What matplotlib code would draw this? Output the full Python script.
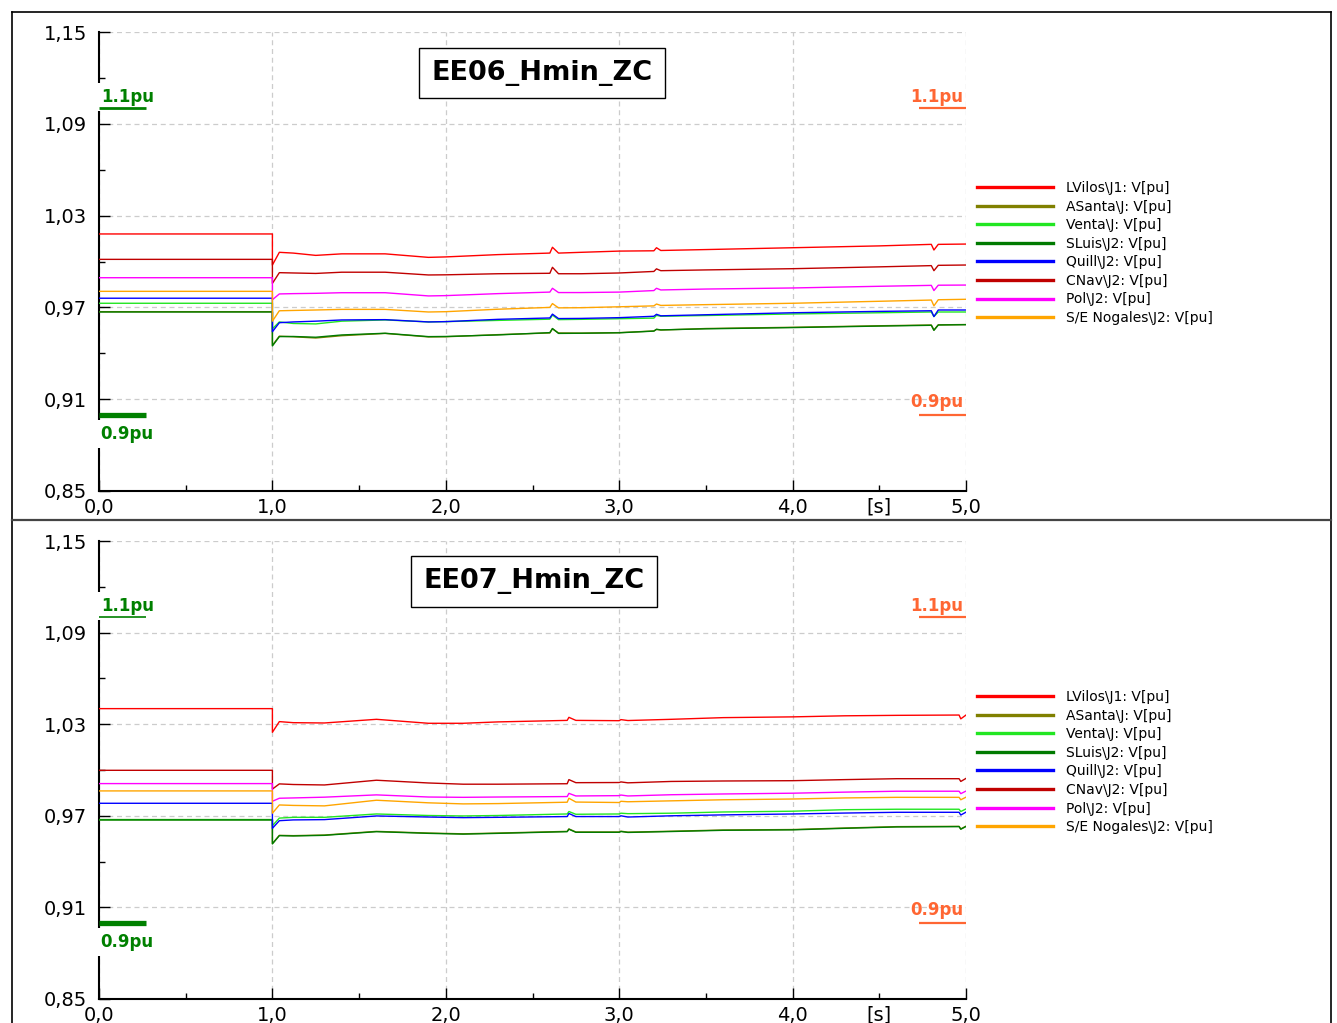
import matplotlib
matplotlib.use("Agg")
import matplotlib.pyplot as plt
from matplotlib.lines import Line2D
from matplotlib.ticker import FuncFormatter

plt.rcParams['font.family'] = ['DejaVu Sans']

# ---------------- data ----------------
names = ["LVilos\\J1: V[pu]", "ASanta\\J: V[pu]", "Venta\\J: V[pu]", "SLuis\\J2: V[pu]",
         "Quill\\J2: V[pu]", "CNav\\J2: V[pu]", "Pol\\J2: V[pu]", "S/E Nogales\\J2: V[pu]"]
colors = ["#ff0000", "#808000", "#22e622", "#007a00", "#0000ff", "#c00000", "#ff00ff", "#ffa500"]

titles = ["EE06_Hmin_ZC", "EE07_Hmin_ZC"]

# top panel (EE06)
t_top = [0.0, 1.0, 1.0, 1.04, 1.12, 1.25, 1.4, 1.65, 1.9, 2.0, 2.3, 2.6, 2.615, 2.65, 2.78,
         3.0, 3.2, 3.215, 3.24, 3.5, 4.0, 4.5, 4.8, 4.815, 4.84, 5.0]
lvilos_top = [1.018, 1.018, 0.9977, 1.006, 1.0055, 1.004, 1.005, 1.005, 1.0027, 1.003, 1.0045, 1.0055,
              1.0093, 1.0055, 1.006, 1.0068, 1.0070, 1.009, 1.0072, 1.0078, 1.009, 1.0102, 1.0112,
              1.0075, 1.0112, 1.0114]
asanta_top = [0.9672, 0.9672, 0.9452, 0.9512, 0.9508, 0.9500, 0.9515, 0.9530, 0.9507, 0.9508, 0.9522,
              0.9533, 0.9560, 0.9533, 0.9532, 0.9535, 0.9546, 0.9556, 0.9552, 0.9562, 0.9570, 0.9580,
              0.9585, 0.9552, 0.9586, 0.9588]
venta_top = [0.9727, 0.9727, 0.9560, 0.9605, 0.9595, 0.9592, 0.9610, 0.9618, 0.9605, 0.9607, 0.9615,
             0.9623, 0.9650, 0.9620, 0.9622, 0.9626, 0.9630, 0.9648, 0.9642, 0.9647, 0.9657, 0.9665,
             0.9670, 0.9640, 0.9670, 0.9670]
sluis_top = [0.9670, 0.9670, 0.9448, 0.9509, 0.9510, 0.9505, 0.9520, 0.9531, 0.9509, 0.9510, 0.9520,
             0.9535, 0.9562, 0.9530, 0.9531, 0.9534, 0.9545, 0.9557, 0.9553, 0.9560, 0.9568, 0.9578,
             0.9583, 0.9550, 0.9585, 0.9587]
quill_top = [0.9760, 0.9760, 0.9541, 0.9600, 0.9605, 0.9610, 0.9618, 0.9620, 0.9605, 0.9607, 0.9622,
             0.9631, 0.9656, 0.9627, 0.9628, 0.9633, 0.9642, 0.9655, 0.9645, 0.9652, 0.9665, 0.9674,
             0.9678, 0.9640, 0.9683, 0.9683]
cnav_top = [1.0014, 1.0014, 0.9857, 0.9927, 0.9925, 0.9922, 0.9930, 0.9930, 0.9912, 0.9913, 0.9920,
            0.9923, 0.9962, 0.9920, 0.9920, 0.9925, 0.9935, 0.9952, 0.9940, 0.9945, 0.9953, 0.9965,
            0.9973, 0.9940, 0.9975, 0.9977]
pol_top = [0.9894, 0.9894, 0.9750, 0.9788, 0.9790, 0.9792, 0.9796, 0.9796, 0.9775, 0.9777, 0.9790,
           0.9800, 0.9825, 0.9797, 0.9797, 0.9800, 0.9810, 0.9825, 0.9814, 0.9820, 0.9827, 0.9838,
           0.9844, 0.9810, 0.9845, 0.9846]
nogales_top = [0.9805, 0.9805, 0.9610, 0.9678, 0.9680, 0.9683, 0.9687, 0.9687, 0.9670, 0.9672, 0.9688,
               0.9700, 0.9725, 0.9697, 0.9698, 0.9704, 0.9710, 0.9722, 0.9713, 0.9718, 0.9727, 0.9740,
               0.9748, 0.9710, 0.9750, 0.9753]

# bottom panel (EE07)
t_bot = [0.0, 1.0, 1.0, 1.04, 1.12, 1.3, 1.6, 1.9, 2.1, 2.3, 2.7, 2.71, 2.75, 3.0, 3.01, 3.05,
         3.3, 3.6, 4.0, 4.3, 4.6, 4.96, 4.97, 5.0]
lvilos_bot = [1.0402, 1.0402, 1.0247, 1.0317, 1.0310, 1.0308, 1.0332, 1.0306, 1.0306, 1.0315, 1.0325,
              1.0345, 1.0325, 1.0323, 1.0330, 1.0324, 1.0332, 1.0343, 1.0348, 1.0355, 1.0358, 1.0360,
              1.0335, 1.0360]
asanta_bot = [0.9675, 0.9675, 0.9518, 0.9572, 0.9570, 0.9574, 0.9598, 0.9587, 0.9582, 0.9587, 0.9598,
              0.9614, 0.9594, 0.9594, 0.9599, 0.9593, 0.9599, 0.9607, 0.9610, 0.9620, 0.9629, 0.9631,
              0.9614, 0.9632]
venta_bot = [0.9675, 0.9675, 0.9635, 0.9685, 0.9690, 0.9690, 0.9712, 0.9702, 0.9699, 0.9702, 0.9712,
             0.9728, 0.9710, 0.9712, 0.9717, 0.9714, 0.9717, 0.9725, 0.9730, 0.9740, 0.9743, 0.9743,
             0.9728, 0.9745]
sluis_bot = [0.9673, 0.9673, 0.9516, 0.9570, 0.9568, 0.9572, 0.9596, 0.9585, 0.9580, 0.9585, 0.9596,
             0.9612, 0.9592, 0.9592, 0.9597, 0.9591, 0.9597, 0.9605, 0.9608, 0.9618, 0.9627, 0.9629,
             0.9612, 0.9630]
quill_bot = [0.9782, 0.9782, 0.9618, 0.9668, 0.9673, 0.9675, 0.9699, 0.9692, 0.9688, 0.9690, 0.9695,
             0.9715, 0.9695, 0.9695, 0.9700, 0.9692, 0.9700, 0.9706, 0.9712, 0.9718, 0.9723, 0.9723,
             0.9705, 0.9724]
cnav_bot = [0.9998, 0.9998, 0.9875, 0.9909, 0.9905, 0.9902, 0.9933, 0.9915, 0.9907, 0.9907, 0.9910,
            0.9937, 0.9917, 0.9918, 0.9922, 0.9916, 0.9925, 0.9928, 0.9930, 0.9937, 0.9943, 0.9943,
            0.9925, 0.9945]
pol_bot = [0.9911, 0.9911, 0.9795, 0.9815, 0.9817, 0.9822, 0.9837, 0.9823, 0.9821, 0.9823, 0.9826,
           0.9847, 0.9830, 0.9832, 0.9836, 0.9830, 0.9838, 0.9843, 0.9848, 0.9855, 0.9861, 0.9861,
           0.9845, 0.9862]
nogales_bot = [0.9863, 0.9863, 0.9717, 0.9771, 0.9768, 0.9765, 0.9802, 0.9785, 0.9778, 0.9780, 0.9789,
               0.9815, 0.9790, 0.9787, 0.9795, 0.9792, 0.9798, 0.9805, 0.9810, 0.9817, 0.9821, 0.9821,
               0.9805, 0.9822]

series_top = [lvilos_top, asanta_top, venta_top, sluis_top, quill_top, cnav_top, pol_top, nogales_top]
series_bot = [lvilos_bot, asanta_bot, venta_bot, sluis_bot, quill_bot, cnav_bot, pol_bot, nogales_bot]

limit_hi = 1.1
limit_lo = 0.9
yticks = [0.85, 0.91, 0.97, 1.03, 1.09, 1.15]
xticks = [0.0, 1.0, 2.0, 3.0, 4.0, 5.0]

# ---------------- figure ----------------
W, H = 1337, 1023
fig = plt.figure(figsize=(W / 100, H / 100), dpi=100)

def fx(px):
    return px / W

def fy(py):
    return 1 - py / H

# frame lines
fig.add_artist(Line2D([fx(12), fx(12)], [fy(12), fy(1023)], color="black", lw=1.2))
fig.add_artist(Line2D([fx(1331), fx(1331)], [fy(12), fy(1023)], color="black", lw=1.2))
fig.add_artist(Line2D([fx(12), fx(1331)], [fy(12), fy(12)], color="black", lw=1.2))
fig.add_artist(Line2D([fx(12), fx(1331)], [fy(520), fy(520)], color="#444444", lw=1.6))

green = "#008000"
orange_lbl = "#ff6633"

panels = [
    (32, 491, t_top, series_top, titles[0], 0.5109, 0.9107),
    (541, 999, t_bot, series_bot, titles[1], 0.5017, 0.9116),
]

comma = FuncFormatter(lambda v, p: ("%.2f" % v).replace(".", ","))
comma1 = FuncFormatter(lambda v, p: ("%.1f" % v).replace(".", ","))

for idx, (ptop, pbot, tt, series, title, tx, ty) in enumerate(panels):
    ax = fig.add_axes([fx(99), fy(pbot), fx(966) - fx(99), (pbot - ptop) / H])
    ax.set_xlim(0, 5)
    ax.set_ylim(0.85, 1.15)
    for s in ["top", "right"]:
        ax.spines[s].set_visible(False)
    for s in ["left", "bottom"]:
        ax.spines[s].set_linewidth(1.5)
    ax.set_yticks(yticks)
    ax.set_yticks([0.88, 0.94, 1.00, 1.06, 1.12], minor=True)
    ax.set_xticks(xticks)
    ax.set_xticks([0.5, 1.5, 2.5, 3.5, 4.5], minor=True, labels=["", "", "", "", "[s]"])
    ax.yaxis.set_major_formatter(comma)
    ax.xaxis.set_major_formatter(comma1)
    ax.tick_params(axis="both", which="major", direction="in", length=8, width=1.0,
                   labelsize=14, color="black")
    ax.tick_params(axis="both", which="minor", direction="in", length=4, width=1.0,
                   labelsize=14, color="black")
    ax.tick_params(axis="y", which="both", pad=8.5)
    ax.tick_params(axis="x", which="both", pad=5)
    ax.grid(True, which="major", color="#cccccc", linestyle=(0, (4, 3)), lw=0.9)
    ax.set_axisbelow(True)

    for vals, col, nm in zip(series, colors, names):
        ax.plot(tt, vals, color=col, lw=1.0, label=nm, zorder=3)

    # limit markers
    ax.plot([0, 0.27], [limit_hi, limit_hi], color=green, lw=2.0 if idx == 0 else 1.2,
            zorder=6, clip_on=False, solid_capstyle="butt")
    ax.plot([0, 0.27], [limit_lo, limit_lo], color=green, lw=3.8, zorder=6, clip_on=False,
            solid_capstyle="butt")
    ax.plot([4.73, 5.0], [limit_hi, limit_hi], color=orange_lbl, lw=1.6, zorder=6,
            solid_capstyle="butt")
    ax.plot([4.73, 5.0], [limit_lo, limit_lo], color=orange_lbl, lw=1.6, zorder=6,
            solid_capstyle="butt")
    bb = dict(boxstyle="square,pad=0.32", fc="white", ec="none")
    ax.text(0.01, 1.1075, "1.1pu", color=green, fontsize=12, fontweight="bold",
            ha="left", va="center", bbox=bb, zorder=5, clip_on=False)
    ax.text(0.01, 0.8873, "0.9pu", color=green, fontsize=12, fontweight="bold",
            ha="left", va="center", bbox=bb, zorder=5, clip_on=False)
    ax.text(4.985, 1.1075, "1.1pu", color=orange_lbl, fontsize=12, fontweight="bold",
            ha="right", va="center", zorder=5)
    ax.text(4.985, 0.9082, "0.9pu", color=orange_lbl, fontsize=12, fontweight="bold",
            ha="right", va="center", zorder=5)

    ax.text(tx, ty, title, transform=ax.transAxes, fontsize=19.5, fontweight="bold",
            ha="center", va="center", zorder=7,
            bbox=dict(boxstyle="square,pad=0.45", fc="white", ec="black", lw=1.0))

    leg = ax.legend(loc="upper left",
                    bbox_to_anchor=((977 - 99) / 867, (pbot - 181 - (ptop - 32)) / (pbot - ptop)),
                    frameon=False, fontsize=10, handlelength=5.45, handletextpad=0.93,
                    labelspacing=0.33, borderpad=0, borderaxespad=0)
    for ln in leg.get_lines():
        ln.set_linewidth(2.4)

fig.savefig("out.png", dpi=100)
